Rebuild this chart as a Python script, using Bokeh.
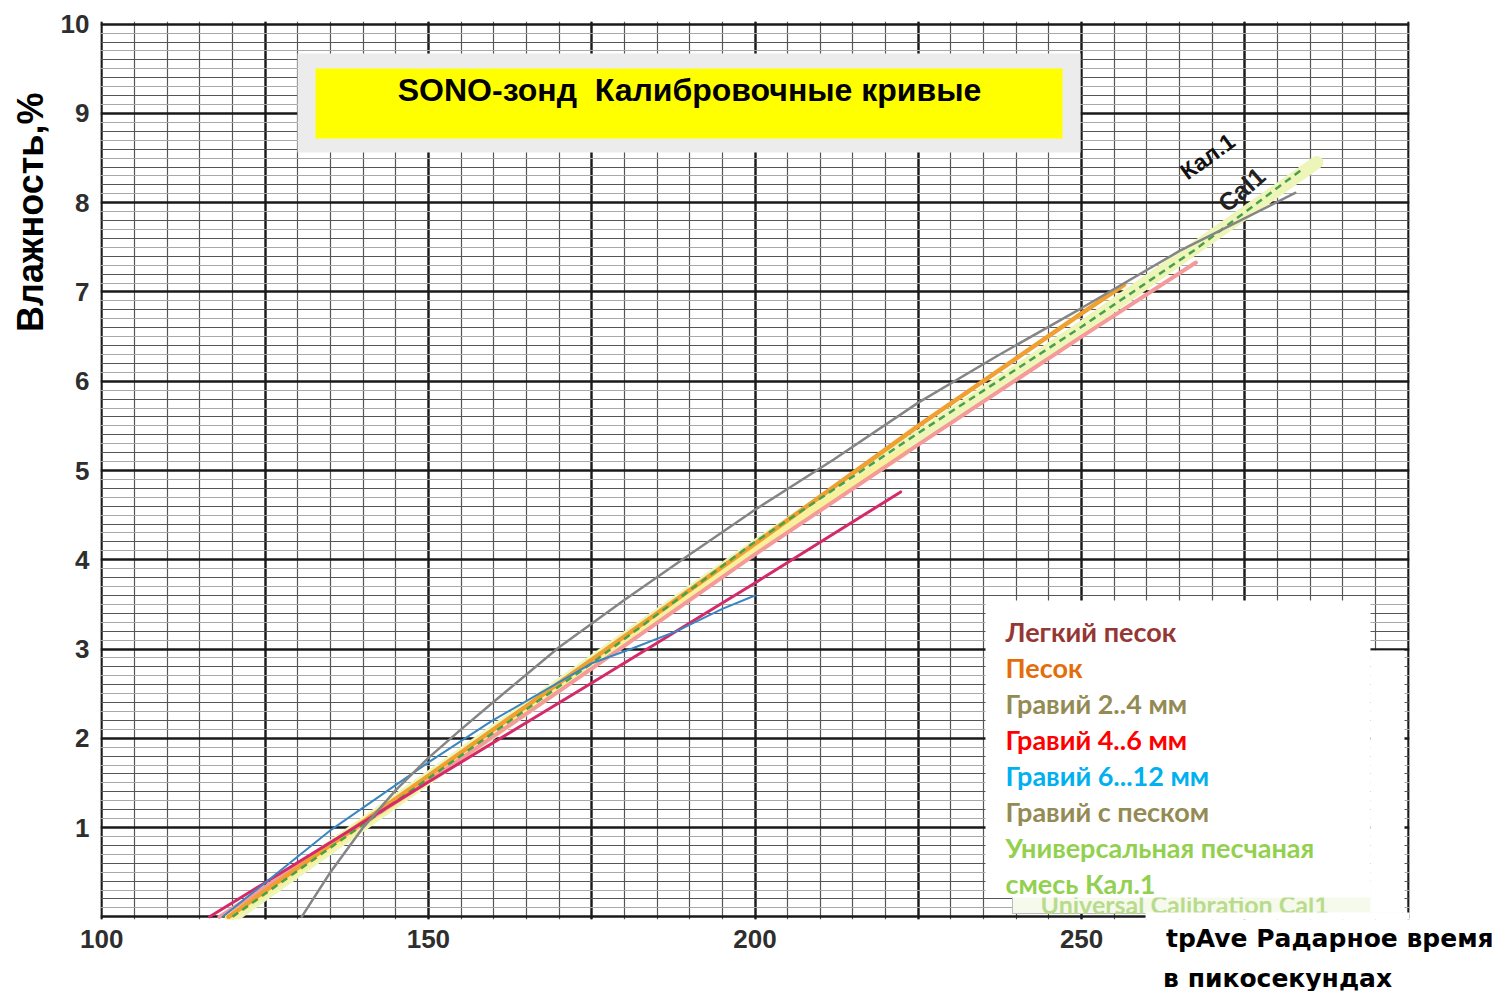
import math
from bokeh.plotting import figure
from bokeh.models import (FixedTicker, Grid, Label, BoxAnnotation, Range1d, ColumnDataSource,
                          Title, LinearAxis)
from bokeh.core.properties import value
from bokeh.embed import file_html
from bokeh.resources import INLINE

# ---------------- data ----------------
x_ticks = [100, 150, 200, 250]
y_ticks = [1, 2, 3, 4, 5, 6, 7, 8, 9, 10]

# Кал.1 (grey curve)
kal1_x = [130.6, 135.0, 140.0, 145.0, 150.0, 155.0, 160.0, 170.0, 180.0, 190.0, 200.0, 212.0, 225.0, 237.0, 250.0, 265.0, 282.7]
kal1_y = [0.0, 0.50, 1.00, 1.42, 1.78, 2.10, 2.41, 3.02, 3.55, 4.06, 4.56, 5.12, 5.76, 6.28, 6.82, 7.46, 8.11]

# Песок (orange)
sand_x = [119.4, 150.0, 175.0, 200.0, 225.0, 250.0, 256.5]
sand_y = [0.0, 1.58, 2.88, 4.18, 5.50, 6.76, 7.08]

# Легкий песок (salmon pink)
light_sand_x = [118.0, 150.0, 175.0, 200.0, 225.0, 250.0, 267.5]
light_sand_y = [0.0, 1.52, 2.78, 4.06, 5.29, 6.50, 7.33]

# Гравий 4..6 мм (crimson)
gravel46_x = [116.5, 150.0, 175.0, 200.0, 222.3]
gravel46_y = [0.0, 1.51, 2.62, 3.74, 4.76]

# Гравий 6...12 мм (blue)
gravel612_x = [118.5, 135.2, 150.0, 159.6, 175.0, 181.0, 188.0, 195.0, 200.0]
gravel612_y = [0.0, 0.98, 1.73, 2.19, 2.84, 3.00, 3.20, 3.45, 3.60]

# Гравий 2..4 мм (pale yellow band)
gravel24_x = [119.5, 175.0, 200.0, 223.0]
gravel24_y = [0.0, 2.82, 4.12, 5.22]

# Универсальная песчаная смесь Кал.1 (green dashed) and its pale band (Cal1)
univ_x = [120.0, 150.0, 175.0, 199.4, 225.0, 250.0, 267.1, 283.5]
univ_y = [0.0, 1.55, 2.84, 4.17, 5.42, 6.61, 7.46, 8.36]
cal1_x = [120.0, 200.0, 250.0, 286.0]
cal1_y = [0.0, 4.15, 6.60, 8.45]

legend_items = ["Легкий песок", "Песок", "Гравий 2..4 мм", "Гравий 4..6 мм",
                "Гравий 6...12 мм", "Гравий с песком", "Универсальная песчаная", "смесь Кал.1"]
legend_colors = ["#953735", "#e46c0a", "#948a54", "#ff0000",
                 "#00b0f0", "#948a54", "#92d050", "#92d050"]

x_title_lines = ["tpAve Радарное время", "в пикосекундах"]
y_title = "Влажность,%"
chart_title = "SONO-зонд\u00a0 Калибровочные кривые"

# ---------------- layout constants ----------------
X0, X1 = 99.8, 300.2
Y0, Y1 = -0.03, 10.03
FRAME_L, FRAME_T, FRAME_W, FRAME_H = 100, 21, 1309, 898
FRAME_B = FRAME_T + FRAME_H
X_TITLE_AT = 288.0          # horizontal anchor of the x-axis title (centre of its first line)
NBSP = "\u00a0"

def dx(px):
    return X0 + (px - FRAME_L) * (X1 - X0) / FRAME_W

def dy(py):
    return Y0 + (FRAME_B - py) * (Y1 - Y0) / FRAME_H

# ---------------- figure ----------------
p = figure(frame_width=FRAME_W, frame_height=FRAME_H,
           x_range=Range1d(X0, X1), y_range=Range1d(Y0, Y1),
           min_border_left=FRAME_L, min_border_right=1499 - FRAME_L - FRAME_W,
           min_border_top=FRAME_T, min_border_bottom=991 - FRAME_B,
           output_backend="svg", toolbar_location=None)
p.background_fill_color = "white"
p.border_fill_color = "white"
p.outline_line_color = None

# grids
p.xgrid.ticker = FixedTicker(ticks=list(range(100, 301, 25)), minor_ticks=list(range(100, 301, 5)))
p.xgrid.grid_line_color = "#1a1a1a"
p.xgrid.grid_line_width = 2.4
p.xgrid.minor_grid_line_color = "#555555"
p.xgrid.minor_grid_line_width = 1.2

p.ygrid.ticker = FixedTicker(ticks=list(range(0, 11)), minor_ticks=[i / 10 for i in range(101)])
p.ygrid.grid_line_color = "#1a1a1a"
p.ygrid.grid_line_width = 2.4
p.ygrid.minor_grid_line_color = "#a8a8a8"
p.ygrid.minor_grid_line_width = 1.0

g2 = Grid(dimension=1, ticker=FixedTicker(ticks=[i * 0.2 for i in range(51) if i % 5]),
          grid_line_color="#555555", grid_line_width=1.2)
p.add_layout(g2)

# axes
for ax in (p.xaxis, p.yaxis):
    ax.axis_line_color = None
    ax.major_tick_line_color = None
    ax.minor_tick_line_color = None
    ax.major_label_text_font = "Liberation Sans"
    ax.major_label_text_font_style = "bold"
    ax.major_label_text_font_size = "26px"
    ax.major_label_text_color = "#2e2e2e"
p.yaxis.major_label_standoff = 5
p.yaxis.ticker = FixedTicker(ticks=y_ticks)
p.xaxis.ticker = FixedTicker(ticks=x_ticks)
p.xaxis.major_label_standoff = 4

# second bottom axis that carries the two-line x title at the right end
title_axis = LinearAxis(ticker=FixedTicker(ticks=[X_TITLE_AT]),
                        major_label_overrides={
                            X_TITLE_AT: x_title_lines[0] + "\n" + x_title_lines[1] + NBSP * 12},
                        axis_line_color=None, major_tick_line_color=None,
                        minor_tick_line_color=None,
                        major_label_text_font="DejaVu Sans",
                        major_label_text_font_style="bold",
                        major_label_text_font_size="25px",
                        major_label_text_color="#000000",
                        major_label_text_line_height=1.4,
                        major_label_standoff=-33)
p.add_layout(title_axis, "below")

# y axis title on the left, towards the top
p.add_layout(Title(text=y_title, align="right", offset=71, standoff=13,
                   text_font="Liberation Sans", text_font_style="bold",
                   text_font_size="36px", text_color="#000000"), "left")

# ---------------- curves ----------------
p.line(cal1_x, cal1_y, line_color="#eef5b8", line_width=13, line_cap="round")
p.line(gravel24_x, gravel24_y, line_color="#f8f09a", line_width=9, line_cap="round")
p.line(light_sand_x, light_sand_y, line_color="#f59a9a", line_width=4, line_cap="round")
p.line(sand_x, sand_y, line_color="#f0a030", line_width=4.5, line_cap="round")
p.line(univ_x, univ_y, line_color="#4aa04a", line_width=2.5, line_dash="7 5")
p.line(gravel46_x, gravel46_y, line_color="#d42a6a", line_width=3, line_cap="round")
p.line(gravel612_x, gravel612_y, line_color="#3a86c0", line_width=2, line_cap="round")
p.line(kal1_x, kal1_y, line_color="#858585", line_width=2.5, line_cap="round")

# curve labels
p.add_layout(Label(x=dx(1207), y=dy(156), text="Кал.1", angle=math.radians(36),
                   text_align="center", text_baseline="middle",
                   text_font="Liberation Sans", text_font_style="bold",
                   text_font_size="23px", text_color="#111111"))
p.add_layout(Label(x=dx(1241), y=dy(189), text="Cal1", angle=math.radians(41),
                   text_align="center", text_baseline="middle",
                   text_font="Liberation Sans", text_font_style="bold",
                   text_font_size="25px", text_color="#222222"))

# ---------------- title box ----------------
p.add_layout(BoxAnnotation(left=dx(297), right=dx(1080), top=dy(53), bottom=dy(152),
                           fill_color="#ececec", fill_alpha=1, line_color=None, level="annotation"))
p.add_layout(BoxAnnotation(left=dx(315), right=dx(1062), top=dy(68), bottom=dy(138),
                           fill_color="#ffff00", fill_alpha=1, line_color=None, level="annotation"))
p.add_layout(Label(x=dx(689), y=dy(89), text=chart_title,
                   text_align="center", text_baseline="middle",
                   text_font="Liberation Sans", text_font_style="bold",
                   text_font_size="32px", text_color="#000000"))

# ---------------- legend box ----------------
src_old = ColumnDataSource(dict(x=[dx(1040)], y=[dy(903)], t=["Universal Calibration Cal1"]))
p.quad(left=[dx(1012)], right=[dx(1402)], top=[dy(880)], bottom=[dy(913)],
       fill_color="#f6faec", line_color="#bbbbbb", line_width=1)
p.text(x="x", y="y", text="t", source=src_old, text_font_size=value("25px"),
       text_font=value("Lato"), text_font_style=value("bold"), text_color="#b8dc8c",
       text_align="left", text_baseline="alphabetic")
p.quad(left=[dx(985)], right=[dx(1370)], top=[dy(600)], bottom=[dy(897)],
       fill_color="white", line_color=None)
p.quad(left=[dx(1370)], right=[dx(1404)], top=[dy(650)], bottom=[dy(912)],
       fill_color="white", line_color=None)
# white area under the x-axis title that hides the frame corner
p.quad(left=[dx(1145)], right=[X1 + 1], top=[dy(912)], bottom=[Y0 - 1],
       fill_color="white", line_color=None)

leg_src = ColumnDataSource(dict(
    x=[dx(1005)] * len(legend_items),
    y=[dy(631 + 36 * i) for i in range(len(legend_items))],
    t=legend_items, c=legend_colors))
p.text(x="x", y="y", text="t", text_color="c", source=leg_src,
       text_font=value("Lato"), text_font_style=value("bold"), text_font_size=value("27px"),
       text_align="left", text_baseline="middle")

open("out.html", "w").write(file_html(p, INLINE))
